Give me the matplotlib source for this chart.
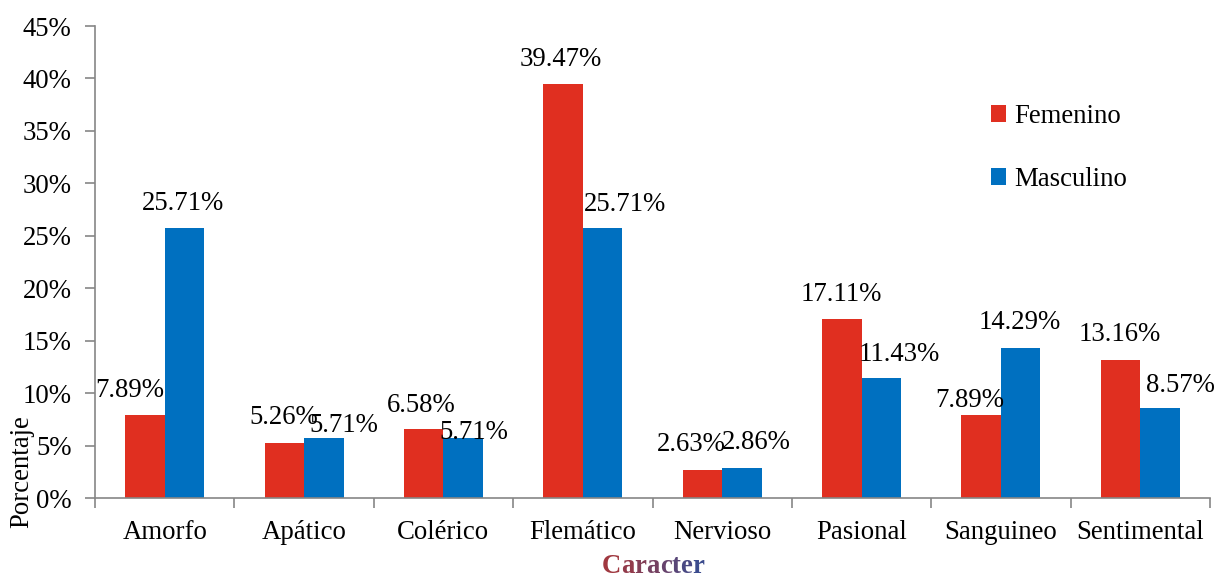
import matplotlib
matplotlib.use("Agg")
import matplotlib.pyplot as plt
import numpy as np
from matplotlib.colors import to_rgb

categories = ["Amorfo", "Apático", "Colérico", "Flemático", "Nervioso",
              "Pasional", "Sanguineo", "Sentimental"]
femenino = [7.89, 5.26, 6.58, 39.47, 2.63, 17.11, 7.89, 13.16]
masculino = [25.71, 5.71, 5.71, 25.71, 2.86, 11.43, 14.29, 8.57]
yticks = [0, 5, 10, 15, 20, 25, 30, 35, 40, 45]

RED = "#E02F20"
BLUE = "#0070C0"
AXIS = "#868686"
FONT = "Liberation Serif"
FS = 19.3

# label nudges (pixels) from the top centre of each bar
off_f = [(-15, 25), (-1, 25), (-2, 23), (-2, 25), (-11, 26), (-1, 24), (-11, 15), (-1, 25)]
off_m = [(-1, 25), (20, 13), (11, 6), (22, 24), (14, 26), (18, 24), (-1, 26), (20, 23)]

plt.rcParams["font.family"] = [FONT, "DejaVu Serif"]

fig = plt.figure(figsize=(12.18, 5.77), dpi=100)
ax = fig.add_axes([95 / 1218, 1 - 498 / 577, 1115 / 1218, 472 / 577])

x = np.arange(len(categories)) + 0.5
w = 0.283
bf = ax.bar(x - w / 2, femenino, w, color=RED, label="Femenino")
bm = ax.bar(x + w / 2, masculino, w, color=BLUE, label="Masculino")

for bars, vals, offs in ((bf, femenino, off_f), (bm, masculino, off_m)):
    for b, v, (dx, dy) in zip(bars, vals, offs):
        ax.annotate(f"{v:.2f}%", (b.get_x() + b.get_width() / 2, v),
                    xytext=(dx, dy), textcoords="offset pixels",
                    ha="center", va="center", fontsize=FS, color="black")

ax.set_xlim(0, len(categories))
ax.set_ylim(0, 45)
ax.set_yticks(yticks)
ax.set_yticklabels([f"{t}%" for t in yticks], fontsize=FS)
ax.set_xticks(x)
ax.set_xticklabels(categories, fontsize=FS)
ax.set_xticks(np.arange(len(categories) + 1), minor=True)
ax.tick_params(axis="x", which="major", length=0, pad=16)
ax.tick_params(axis="x", which="minor", length=7, color=AXIS, width=1.2, direction="out")
ax.tick_params(axis="y", length=7, color=AXIS, width=1.2, direction="out", pad=10)
for s in ("top", "right"):
    ax.spines[s].set_visible(False)
for s in ("left", "bottom"):
    ax.spines[s].set_color(AXIS)
    ax.spines[s].set_linewidth(1.2)

leg = ax.legend(loc="upper left", bbox_to_anchor=(0.782, 0.886), frameon=False,
                fontsize=FS, handlelength=0.55, handleheight=0.55,
                handletextpad=0.3, labelspacing=1.42)

fig.text(22 / 1218, 1 - 472 / 577, "Porcentaje", rotation=90,
         ha="center", va="center", fontsize=FS)

# axis title drawn letter by letter with a red-to-blue fade
title = "Caracter"
c0, c1 = np.array(to_rgb("#A03840")), np.array(to_rgb("#3C4C8E"))
fig.canvas.draw()
r = fig.canvas.get_renderer()
pieces = []
for i, ch in enumerate(title):
    t = fig.text(0, 1 - 573 / 577, ch, fontsize=FS, fontweight="bold",
                 color=c0 + (c1 - c0) * i / (len(title) - 1), va="baseline", ha="left")
    pieces.append(t)
widths = [p.get_window_extent(r).width for p in pieces]
xpos = 653 - sum(widths) / 2
for p, wd in zip(pieces, widths):
    p.set_x(xpos / 1218)
    xpos += wd

fig.savefig("out.png", dpi=100)
